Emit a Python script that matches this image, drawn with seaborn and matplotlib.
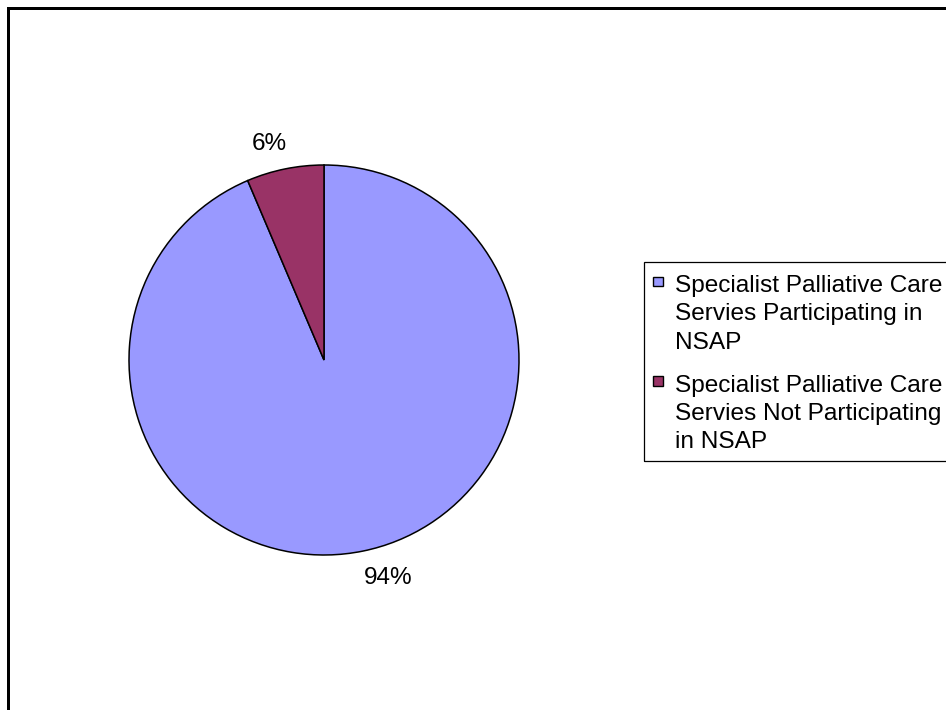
import matplotlib
matplotlib.use("Agg")
import matplotlib.pyplot as plt
import seaborn as sns
from matplotlib.patches import Rectangle, Patch
from matplotlib.legend_handler import HandlerPatch

categories = ["Specialist Palliative Care\nServies Participating in\nNSAP",
              "Specialist Palliative Care\nServies Not Participating\nin NSAP"]
values = [93.6, 6.4]
pct_labels = ["94%", "6%"]
colors = ["#9999FF", "#993366"]

sns.set_theme(style="white")
plt.rcParams['font.family'] = ['Liberation Sans', 'DejaVu Sans']
plt.rcParams['text.color'] = 'black'

W, H = 946, 710
fig = plt.figure(figsize=(W / 100, H / 100), dpi=100)
fig.patch.set_facecolor("white")

# pie area: x 129..519, y 165..555 (pixels)
ax = fig.add_axes([129 / W, (H - 555) / H, 390 / W, 390 / H])
wedges, texts = ax.pie(values, colors=colors, startangle=90, counterclock=False,
                       labels=pct_labels, labeldistance=1.15,
                       wedgeprops=dict(edgecolor="black", linewidth=1.1),
                       textprops=dict(fontsize=17.5, color="black"))
ax.set_xlim(-1, 1)
ax.set_ylim(-1, 1)
ax.set_aspect("auto")
ax.axis("off")

# label placement like the reference (Excel style)
label_pos = {"94%": (0.328, -1.12), "6%": (-0.28, 1.11)}
for t in texts:
    t.set_position(label_pos[t.get_text()])
    t.set_ha("center")
    t.set_va("center")

FS = 17.6


def top_square(legend, orig_handle, xdescent, ydescent, width, height, fontsize):
    s = 0.40 * fontsize
    return Rectangle((-xdescent, -ydescent + 1.50 * fontsize), s, s)


handles = [Patch(facecolor=c, edgecolor="black", linewidth=1.0) for c in colors]
leg = fig.legend(handles, categories, loc="upper left",
                 bbox_to_anchor=(646 / W, 1 - 268 / H),
                 bbox_transform=fig.transFigure,
                 fontsize=FS, frameon=False,
                 borderpad=0.3, handlelength=0.42, handleheight=0.7,
                 handletextpad=0.45, labelspacing=0.86, borderaxespad=0,
                 handler_map={Patch: HandlerPatch(patch_func=top_square)})
for t in leg.get_texts():
    t.set_linespacing(1.36)
    t.set_color("black")

# legend frame (runs past the right edge like the reference)
fig.add_artist(Rectangle((644 / W, 1 - 460.7 / H), 1.0, 199 / H,
                         transform=fig.transFigure, fill=False,
                         edgecolor="black", linewidth=0.9, clip_on=False))

# outer chart border (extends beyond right/bottom edges)
fig.add_artist(Rectangle((7.5 / W, -0.2), 2.0, 1.2 - 7.5 / H,
                         transform=fig.transFigure, fill=False,
                         edgecolor="black", linewidth=2.16, clip_on=False))

fig.savefig("out.png", dpi=100)
